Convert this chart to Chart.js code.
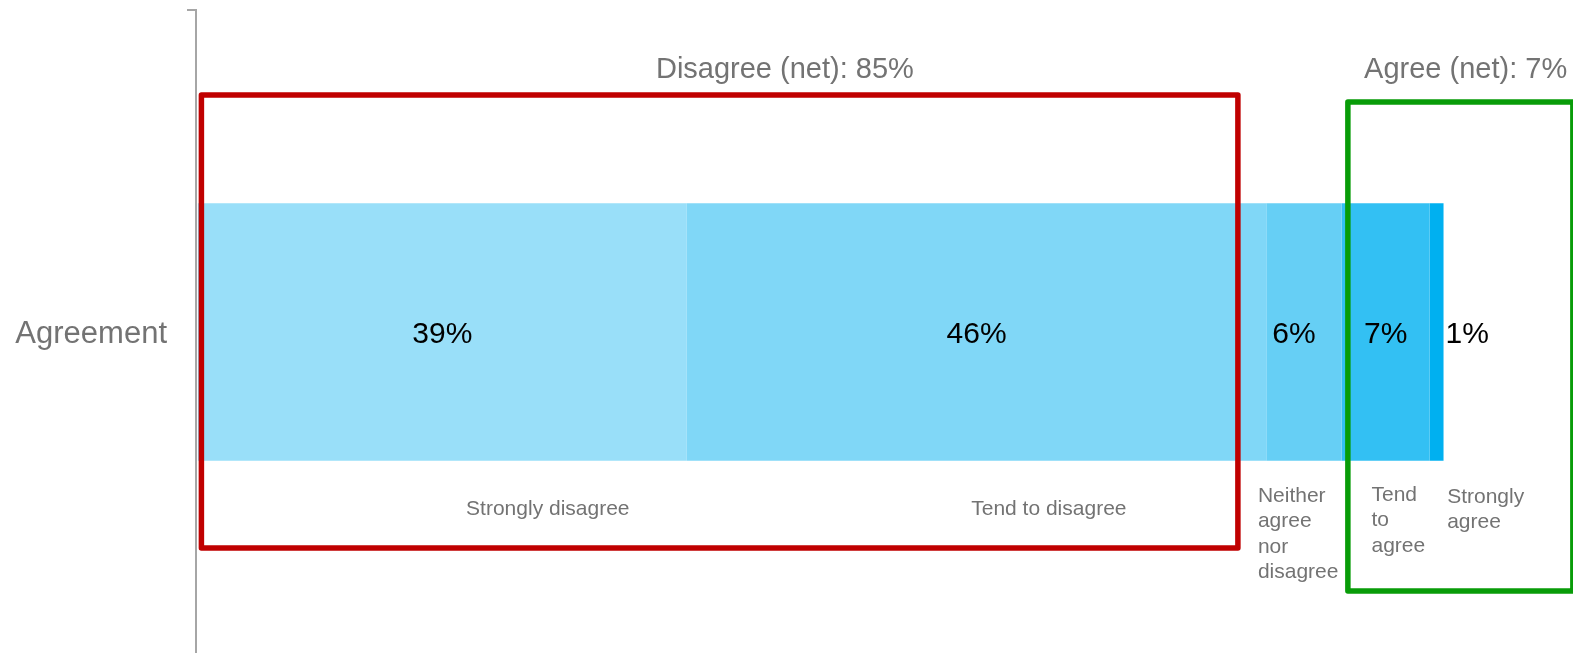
<!DOCTYPE html>
<html>
<head>
<meta charset="utf-8">
<script src="https://cdn.jsdelivr.net/npm/chart.js@4"></script>
<style>
  html, body { margin: 0; padding: 0; overflow: hidden; background: #fff; }
  #wrap { position: relative; width: 1573px; height: 654px; }
</style>
</head>
<body>
<div id="wrap"><canvas id="chart"></canvas></div>
<script>
// data
const categories = ["Agreement"];
const seriesNames = [
  "Strongly disagree",
  "Tend to disagree",
  ["Neither", "agree", "nor", "disagree"],
  ["Tend", "to", "agree"],
  ["Strongly", "agree"]
];
const seriesValues = [38.9, 46.1, 6.0, 7.0, 1.1];
const valueLabels = ["39%", "46%", "6%", "7%", "1%"];
const netLabels = ["Disagree (net): 85%", "Agree (net): 7%"];
const seriesColors = ["#99DFF9", "#80D7F7", "#66CFF5", "#33C0F3", "#00B0F0"];

const FONT = "'Liberation Sans', Arial, sans-serif";
const GREY = "#737373";
Chart.defaults.font.family = FONT;

// annotation layout (x in value units, y relative to bar centre)
const nameAnchors = [
  { v: 27.84, align: "center", dy: 183 },
  { v: 67.7, align: "center", dy: 183 },
  { v: 84.33, align: "left", dy: 170 },
  { v: 93.37, align: "left", dy: 169 },
  { v: 99.39, align: "left", dy: 171 }
];
const valueShift = [0, 0, -10, 0, 0];
const netBoxes = [
  { from: 0.28, to: 82.74, top: -237, bottom: 216, color: "#C00000", labelV: 46.7 },
  { from: 91.49, to: 109.39, top: -230, bottom: 259, color: "#089C08", labelV: 100.86 }
];

const overlay = {
  id: "overlay",
  afterDatasetsDraw(chart) {
    const ctx = chart.ctx;
    const xs = chart.scales.x;
    const yc = chart.scales.y.getPixelForValue(0);
    ctx.save();

    // net boxes
    ctx.lineWidth = 5.5;
    ctx.lineJoin = "round";
    netBoxes.forEach(b => {
      const x1 = xs.getPixelForValue(b.from);
      const x2 = xs.getPixelForValue(b.to);
      ctx.strokeStyle = b.color;
      ctx.strokeRect(x1, yc + b.top, x2 - x1, b.bottom - b.top);
    });

    // net headings
    ctx.font = "29px " + FONT;
    ctx.fillStyle = GREY;
    ctx.textAlign = "center";
    ctx.textBaseline = "alphabetic";
    netLabels.forEach((t, i) => {
      ctx.fillText(t, xs.getPixelForValue(netBoxes[i].labelV), yc - 254);
    });

    // value labels
    ctx.font = "30px " + FONT;
    ctx.fillStyle = "#000";
    ctx.textBaseline = "middle";
    const n = chart.data.datasets.length;
    chart.data.datasets.forEach((ds, i) => {
      const bar = chart.getDatasetMeta(i).data[0];
      if (i === n - 1) {
        ctx.textAlign = "left";
        ctx.fillText(valueLabels[i], bar.x + 2, bar.y + 3);
      } else {
        ctx.textAlign = "center";
        ctx.fillText(valueLabels[i], (bar.x + bar.base) / 2 + valueShift[i], bar.y + 3);
      }
    });

    // series names under the bar
    ctx.font = "21px " + FONT;
    ctx.fillStyle = GREY;
    ctx.textBaseline = "alphabetic";
    seriesNames.forEach((name, i) => {
      const a = nameAnchors[i];
      const lines = Array.isArray(name) ? name : [name];
      ctx.textAlign = a.align;
      lines.forEach((ln, k) => {
        ctx.fillText(ln, xs.getPixelForValue(a.v), yc + a.dy + k * 25.3);
      });
    });

    ctx.restore();
  }
};

new Chart(document.getElementById("chart"), {
  type: "bar",
  data: {
    labels: categories,
    datasets: seriesValues.map((v, i) => ({
      label: Array.isArray(seriesNames[i]) ? seriesNames[i].join(" ") : seriesNames[i],
      data: [v],
      backgroundColor: seriesColors[i],
      borderWidth: 0,
      barPercentage: 0.4,
      categoryPercentage: 1.0
    }))
  },
  options: {
    indexAxis: "y",
    responsive: true,
    maintainAspectRatio: false,
    animation: false,
    layout: { padding: { top: 10, right: 0, bottom: 0, left: 0 } },
    scales: {
      x: {
        stacked: true,
        display: false,
        min: -0.15,
        max: 109.4
      },
      y: {
        stacked: true,
        offset: true,
        afterFit(scale) {
          scale.width = 196;
          scale.paddingTop = 0;
          scale.paddingBottom = 0;
        },
        grid: {
          drawOnChartArea: false,
          drawTicks: true,
          tickLength: 9,
          color: "#a6a6a6",
          lineWidth: 2,
          offset: true
        },
        border: { display: true, color: "#a6a6a6", width: 2 },
        ticks: { color: GREY, font: { size: 31 }, padding: 20, labelOffset: 2 }
      }
    },
    plugins: {
      legend: { display: false },
      tooltip: { enabled: false }
    }
  },
  plugins: [overlay]
});
</script>
</body>
</html>
